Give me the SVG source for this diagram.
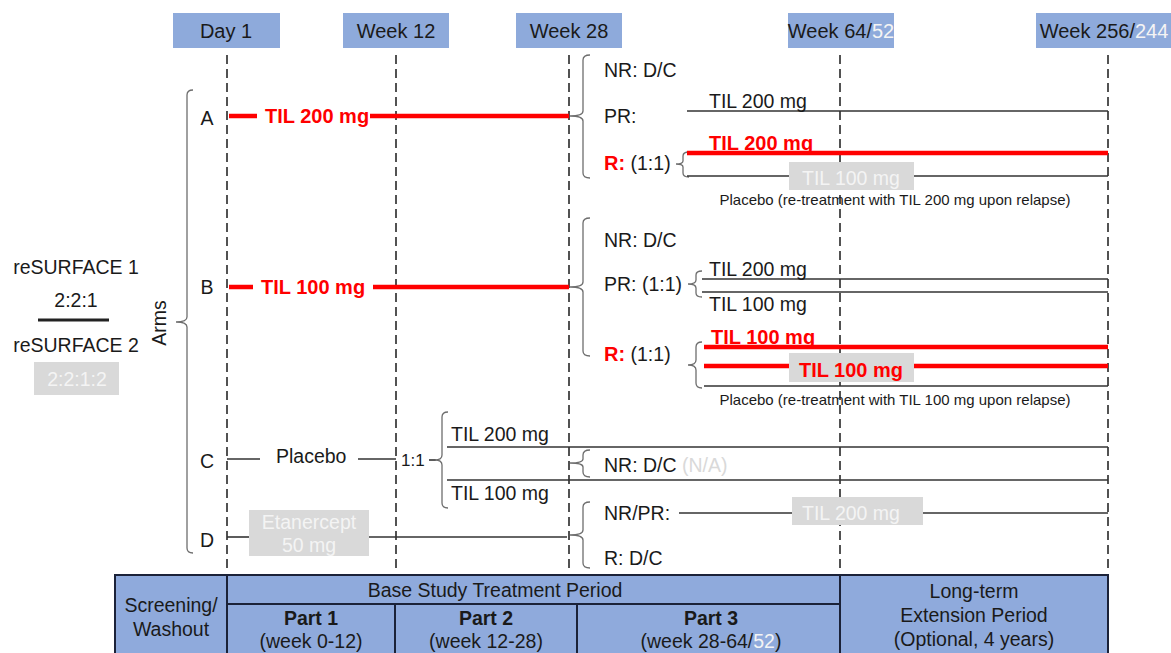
<svg xmlns="http://www.w3.org/2000/svg" width="1171" height="653" viewBox="0 0 1171 653">
<style>
text{font-family:"Liberation Sans",Arial,sans-serif;font-size:19.5px;fill:#1a1a1a}
.h{font-size:20px}
.b{font-weight:bold;font-size:20px}
.red{fill:#ff0000}
.w{fill:#f4f4f4}
.lg{fill:#d9d9d9}
.sm{font-size:15px}
.c{text-anchor:middle}
.hdr{fill:#8eaadb}
.gbox{fill:#d9d9d9}
.dash{stroke:#1a1a1a;stroke-width:1.5;stroke-dasharray:9 5;fill:none}
.ln{stroke:#333;stroke-width:1.6;fill:none}
.rl{stroke:#ff0000;stroke-width:4.5;fill:none}
.br{stroke:#6e6e6e;stroke-width:1.3;fill:none}
.tb{fill:#8faadc;stroke:#1b2238;stroke-width:2}
</style>

<g id="headers">
<rect class="hdr" x="173" y="13" width="107" height="35"/><text class="h c" x="226" y="38">Day 1</text>
<rect class="hdr" x="343" y="13" width="106" height="35"/><text class="h c" x="396" y="38">Week 12</text>
<rect class="hdr" x="516" y="13" width="106" height="35"/><text class="h c" x="569" y="38">Week 28</text>
<rect class="hdr" x="788" y="13" width="106" height="35"/><text class="h c" x="841" y="38">Week 64/<tspan class="w">52</tspan></text>
<rect class="hdr" x="1036" y="13" width="135" height="35"/><text class="h c" x="1104" y="38">Week 256/<tspan class="w">244</tspan></text>
</g>

<g id="timelines">
<line class="dash" x1="227" y1="55" x2="227" y2="568"/>
<line class="dash" x1="396" y1="55" x2="396" y2="568"/>
<line class="dash" x1="569" y1="55" x2="569" y2="568"/>
<line class="dash" x1="840" y1="55" x2="840" y2="568"/>
<line class="dash" x1="1108" y1="55" x2="1108" y2="568"/>
</g>

<g id="legend">
<text class="c" x="76" y="274">reSURFACE 1</text>
<text class="c" x="76" y="307">2:2:1</text>
<line x1="38" y1="320" x2="109" y2="320" stroke="#222" stroke-width="3"/>
<text class="c" x="76" y="352">reSURFACE 2</text>
<rect class="gbox" x="34" y="362" width="85" height="33"/>
<text class="c w" x="77" y="386">2:2:1:2</text>
<text class="c" transform="translate(166,323) rotate(-90)">Arms</text>
<path class="br" d="M193,90 Q187,90 187,95 V317 Q187,322 176,322 Q187,322 187,327 V548 Q187,553 193,553"/>
</g>

<g id="armA">
<text class="c" x="207" y="125">A</text>
<line class="rl" x1="229" y1="116" x2="257" y2="116"/>
<text class="b red" x="265" y="123">TIL 200 mg</text>
<line class="rl" x1="370" y1="116" x2="569" y2="116"/>
<path class="br" d="M590,55 Q583,55 583,60 V111 Q583,116 570,116 Q583,116 583,121 V173 Q583,178 590,178"/>
<text x="604" y="77">NR: D/C</text>
<text x="604" y="123">PR:</text>
<text x="604" y="170"><tspan class="b red">R:</tspan> (1:1)</text>
<line class="ln" x1="687" y1="111" x2="1108" y2="111"/>
<text x="709" y="108">TIL 200 mg</text>
<path class="br" d="M689,152 Q683,152 683,156 V161 Q683,164 676,164 Q683,164 683,167 V173 Q683,177 689,177"/>
<line class="rl" x1="687" y1="153" x2="1108" y2="153"/>
<text class="b red" x="709" y="150">TIL 200 mg</text>
<line class="ln" x1="687" y1="176" x2="1108" y2="176"/>
<rect class="gbox" x="789" y="162" width="125" height="28"/>
<text class="c w" x="851" y="185">TIL 100 mg</text>
<text class="c sm" x="895" y="205">Placebo (re-treatment with TIL 200 mg upon relapse)</text>
</g>

<g id="armB">
<text class="c" x="207" y="294">B</text>
<line class="rl" x1="229" y1="287" x2="253" y2="287"/>
<text class="b red" x="261" y="294">TIL 100 mg</text>
<line class="rl" x1="373" y1="287" x2="569" y2="287"/>
<path class="br" d="M590,218 Q583,218 583,223 V282 Q583,287 570,287 Q583,287 583,292 V351 Q583,356 590,356"/>
<text x="604" y="247">NR: D/C</text>
<text x="604" y="291">PR: (1:1)</text>
<path class="br" d="M702,271 Q696,271 696,275 V280 Q696,284 688,284 Q696,284 696,288 V293 Q696,297 702,297"/>
<line class="ln" x1="702" y1="279" x2="1108" y2="279"/>
<line class="ln" x1="702" y1="292" x2="1108" y2="292"/>
<text x="709" y="276">TIL 200 mg</text>
<text x="709" y="311">TIL 100 mg</text>
<text x="604" y="361"><tspan class="b red">R:</tspan> (1:1)</text>
<path class="br" d="M702,342 Q696,342 696,347 V360 Q696,365 688,365 Q696,365 696,370 V383 Q696,388 702,388"/>
<line class="rl" x1="704" y1="347" x2="1108" y2="347"/>
<text class="b red" x="711" y="344">TIL 100 mg</text>
<line class="rl" x1="704" y1="366" x2="1108" y2="366"/>
<line class="ln" x1="704" y1="386" x2="1108" y2="386"/>
<rect class="gbox" x="789" y="353" width="125" height="29"/>
<text class="b red c" x="851" y="377">TIL 100 mg</text>
<text class="c sm" x="895" y="405">Placebo (re-treatment with TIL 100 mg upon relapse)</text>
</g>

<g id="armC">
<text class="c" x="207" y="468">C</text>
<line class="ln" x1="227" y1="459" x2="260" y2="459"/>
<text x="276" y="463">Placebo</text>
<line class="ln" x1="358" y1="459" x2="396" y2="459"/>
<text x="401" y="466" style="font-size:17px">1:1</text>
<line class="ln" x1="429" y1="460" x2="436" y2="460"/>
<path class="br" d="M448,412 Q442,412 442,417 V455 Q442,460 435,460 Q442,460 442,465 V503 Q442,508 448,508"/>
<line class="ln" x1="447" y1="447" x2="1108" y2="447"/>
<text x="451" y="441">TIL 200 mg</text>
<line class="ln" x1="447" y1="480" x2="1108" y2="480"/>
<text x="451" y="500">TIL 100 mg</text>
<path class="br" d="M590,450 Q583,450 583,455 V459 Q583,463 570,463 Q583,463 583,467 V472 Q583,477 590,477"/>
<text x="604" y="472">NR: D/C <tspan class="lg">(N/A)</tspan></text>
</g>

<g id="armD">
<text class="c" x="207" y="547">D</text>
<line class="ln" x1="227" y1="537" x2="249" y2="537"/>
<rect class="gbox" x="249" y="510" width="120" height="46"/>
<text class="c w" x="309" y="529">Etanercept</text>
<text class="c w" x="309" y="552">50 mg</text>
<line class="ln" x1="369" y1="537" x2="567" y2="537"/>
<path class="br" d="M590,502 Q583,502 583,507 V530 Q583,535 570,535 Q583,535 583,540 V563 Q583,568 590,568"/>
<text x="604" y="520">NR/PR:</text>
<line class="ln" x1="679" y1="513" x2="792" y2="513"/>
<line class="ln" x1="923" y1="513" x2="1108" y2="513"/>
<rect class="gbox" x="792" y="497" width="131" height="28"/>
<text class="c w" x="851" y="520">TIL 200 mg</text>
<text x="604" y="565">R: D/C</text>
</g>

<g id="table">
<rect class="tb" x="115" y="575" width="112" height="80"/>
<rect class="tb" x="227" y="575" width="613" height="29"/>
<rect class="tb" x="227" y="604" width="168" height="51"/>
<rect class="tb" x="395" y="604" width="182" height="51"/>
<rect class="tb" x="577" y="604" width="263" height="51"/>
<rect class="tb" x="840" y="575" width="268" height="80"/>
<text class="c" x="171" y="612">Screening/</text>
<text class="c" x="171" y="636">Washout</text>
<text class="c" x="495" y="597">Base Study Treatment Period</text>
<text class="c" x="311" y="625" style="font-weight:bold">Part 1</text>
<text class="c" x="311" y="648">(week 0-12)</text>
<text class="c" x="486" y="625" style="font-weight:bold">Part 2</text>
<text class="c" x="486" y="648">(week 12-28)</text>
<text class="c" x="711" y="625" style="font-weight:bold">Part 3</text>
<text class="c" x="711" y="648">(week 28-64/<tspan class="w">52</tspan>)</text>
<text class="c" x="974" y="598">Long-term</text>
<text class="c" x="974" y="622">Extension Period</text>
<text class="c" x="974" y="646">(Optional, 4 years)</text>
</g>
</svg>
